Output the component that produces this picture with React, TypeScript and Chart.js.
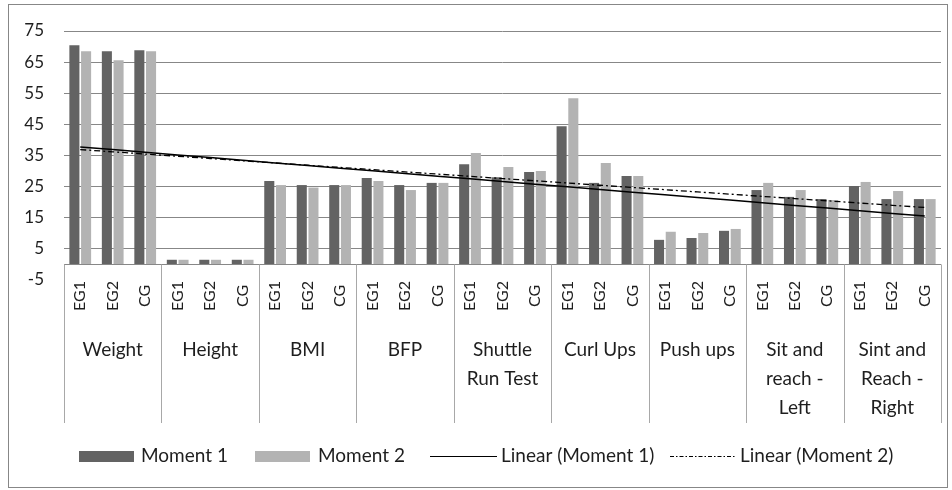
import React, { useEffect, useRef } from "react";
import { Chart, registerables } from "chart.js";
Chart.register(...registerables);

const groupLabels: string[][] = [
  ["Weight"],
  ["Height"],
  ["BMI"],
  ["BFP"],
  ["Shuttle", "Run Test"],
  ["Curl Ups"],
  ["Push ups"],
  ["Sit and", "reach -", "Left"],
  ["Sint and", "Reach -", "Right"],
];
const subGroups = ["EG1", "EG2", "CG"];

const moment1 = [
  70.4, 68.5, 68.8,
  1.5, 1.5, 1.5,
  26.8, 25.5, 25.5,
  27.8, 25.5, 26.2,
  32.2, 28.0, 29.7,
  44.4, 26.2, 28.4,
  7.9, 8.5, 10.8,
  23.9, 21.7, 21.0,
  25.2, 21.0, 21.0,
];
const moment2 = [
  68.5, 65.6, 68.5,
  1.5, 1.5, 1.5,
  25.5, 24.7, 25.5,
  26.8, 23.9, 26.2,
  35.8, 31.3, 30.0,
  53.4, 32.6, 28.4,
  10.5, 10.1, 11.4,
  26.2, 23.9, 20.7,
  26.5, 23.6, 21.0,
];

const seriesNames = ["Moment 1", "Moment 2", "Linear (Moment 1)", "Linear (Moment 2)"];
const yMin = -5;
const yMax = 75;
const yStep = 10;

const categories: string[] = [];
groupLabels.forEach((g) => subGroups.forEach((s) => categories.push(g.join(" ") + " " + s)));

function linearTrend(values: number[]): number[] {
  const n = values.length;
  const xs = values.map((_, i) => i + 1);
  const mx = xs.reduce((a, b) => a + b, 0) / n;
  const my = values.reduce((a, b) => a + b, 0) / n;
  let sxy = 0, sxx = 0;
  for (let i = 0; i < n; i++) {
    sxy += (xs[i] - mx) * (values[i] - my);
    sxx += (xs[i] - mx) ** 2;
  }
  const b = sxy / sxx;
  const a = my - b * mx;
  return xs.map((x) => a + b * x);
}

const C_DARK = "#636363";
const C_LIGHT = "#b3b3b3";
const C_GRID = "#878787";
const C_TEXT = "#1e1e1e";
const FONT = "Lato";

const decorPlugin = {
  id: "decor",
  afterDraw(chart: any) {
    const { ctx, chartArea, scales } = chart;
    const xs = scales.x;
    const ys = scales.y;
    const y0 = ys.getPixelForValue(0);
    const step = xs.getPixelForValue(1) - xs.getPixelForValue(0);
    ctx.save();
    // outer border
    ctx.strokeStyle = C_GRID;
    ctx.lineWidth = 1;
    ctx.strokeRect(8.5, 4.5, 939, 483);
    // axis line
    ctx.beginPath();
    ctx.moveTo(chartArea.left, Math.round(y0) + 0.5);
    ctx.lineTo(chartArea.right, Math.round(y0) + 0.5);
    ctx.stroke();
    // separators
    const sepBottom = 423;
    for (let g = 0; g <= groupLabels.length; g++) {
      const xb = g < groupLabels.length
        ? xs.getPixelForValue(g * 3) - step / 2
        : xs.getPixelForValue(g * 3 - 1) + step / 2;
      ctx.beginPath();
      ctx.strokeStyle = "#a8a8a8";
      ctx.moveTo(Math.round(xb) + 0.5, y0);
      ctx.lineTo(Math.round(xb) + 0.5, sepBottom);
      ctx.stroke();
    }
    // rotated sub labels
    ctx.fillStyle = C_TEXT;
    ctx.font = `16px ${FONT}`;
    ctx.textAlign = "center";
    ctx.textBaseline = "middle";
    categories.forEach((_, i) => {
      const cx = xs.getPixelForValue(i);
      ctx.save();
      ctx.translate(cx, 296);
      ctx.rotate(-Math.PI / 2);
      ctx.fillText(subGroups[i % 3], 0, 0);
      ctx.restore();
    });
    // group labels
    ctx.font = `19px ${FONT}`;
    groupLabels.forEach((lines, g) => {
      const cx = (xs.getPixelForValue(g * 3) + xs.getPixelForValue(g * 3 + 2)) / 2;
      lines.forEach((t, k) => ctx.fillText(t, cx, 350 + k * 29));
    });
    // legend
    const ly = 456;
    ctx.textAlign = "left";
    ctx.fillStyle = C_DARK;
    ctx.fillRect(79, 451, 55, 11);
    ctx.fillStyle = C_LIGHT;
    ctx.fillRect(255, 451, 55, 11);
    ctx.strokeStyle = "#000";
    ctx.lineWidth = 1.2;
    ctx.beginPath();
    ctx.moveTo(430, ly + 0.5);
    ctx.lineTo(497, ly + 0.5);
    ctx.stroke();
    ctx.setLineDash([4, 2, 1.5, 2]);
    ctx.beginPath();
    ctx.moveTo(670, ly + 0.5);
    ctx.lineTo(735, ly + 0.5);
    ctx.stroke();
    ctx.setLineDash([]);
    ctx.fillStyle = C_TEXT;
    ctx.fillText(seriesNames[0], 141, ly);
    ctx.fillText(seriesNames[1], 318, ly);
    ctx.fillText(seriesNames[2], 501, ly);
    ctx.fillText(seriesNames[3], 740, ly);
    ctx.restore();
  },
};

export default function App() {
  const ref = useRef<HTMLCanvasElement | null>(null);
  useEffect(() => {
    if (!ref.current) return;
    const chart = new Chart(ref.current, {
      type: "bar",
      data: {
        labels: categories,
        datasets: [
          {
            type: "line",
            label: seriesNames[2],
            data: linearTrend(moment1),
            borderColor: "#000",
            borderWidth: 1.5,
            pointRadius: 0,
            tension: 0,
            order: 1,
          } as any,
          {
            type: "line",
            label: seriesNames[3],
            data: linearTrend(moment2),
            borderColor: "#000",
            borderWidth: 1.3,
            borderDash: [6, 3, 2, 3],
            pointRadius: 0,
            tension: 0,
            order: 0,
          } as any,
          {
            label: seriesNames[0],
            data: moment1,
            backgroundColor: C_DARK,
            categoryPercentage: 0.72,
            barPercentage: 0.86,
            order: 3,
          },
          {
            label: seriesNames[1],
            data: moment2,
            backgroundColor: C_LIGHT,
            categoryPercentage: 0.72,
            barPercentage: 0.86,
            order: 3,
          },
        ],
      },
      options: {
        responsive: false,
        animation: false,
        layout: { padding: { left: 0, right: 11, top: 31, bottom: 210 } },
        plugins: { legend: { display: false }, tooltip: { enabled: false } },
        scales: {
          x: { display: false, offset: true },
          y: {
            min: yMin,
            max: yMax,
            afterFit: (s: any) => { s.width = 64; },
            border: { display: false },
            grid: {
              drawTicks: false,
              color: (c: any) => (c.tick && c.tick.value === yMin ? "rgba(0,0,0,0)" : C_GRID),
            },
            ticks: {
              stepSize: yStep,
              padding: 20,
              color: C_TEXT,
              font: { family: FONT, size: 17 },
            },
          },
        },
      },
      plugins: [decorPlugin],
    });
    return () => chart.destroy();
  }, []);
  return (
    <div style={{ position: "absolute", left: 0, top: 0, width: 952, height: 490, background: "#fff" }}>
      <canvas ref={ref} width={952} height={490} />
    </div>
  );
}
